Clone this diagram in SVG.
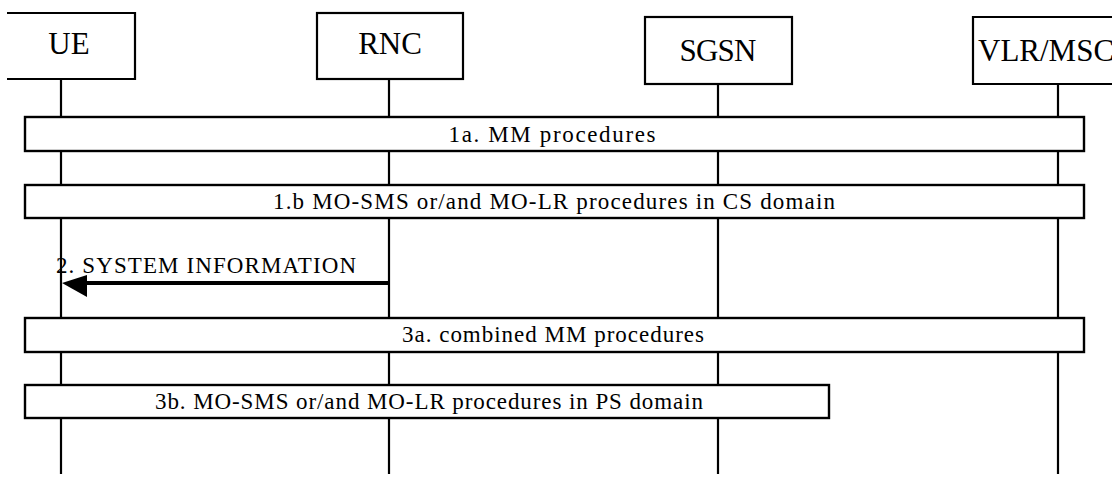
<svg xmlns="http://www.w3.org/2000/svg" width="1112" height="478" viewBox="0 0 1112 478">
<style>
.box{fill:#fff;stroke:#000;stroke-width:2.2}
.life{stroke:#000;stroke-width:2.2;fill:none}
.bar{fill:#fff;stroke:#000;stroke-width:2.4}
.nl{font-family:'Liberation Serif','DejaVu Serif',serif;font-size:31px;fill:#000;text-anchor:middle}
.bl{font-family:'Liberation Serif','DejaVu Serif',serif;font-size:23px;fill:#000;text-anchor:middle}
.msg{stroke:#000;stroke-width:4;fill:none}
</style>
<rect width="1112" height="478" fill="#fff"/>
<g id="node-UE">
<line class="life" x1="61" y1="79" x2="61" y2="474"/>
<path class="box" d="M7,13 H135 V79 H7"/>
<text class="nl" x="69" y="54">UE</text>
</g>
<g id="node-RNC">
<line class="life" x1="389" y1="79" x2="389" y2="474"/>
<rect class="box" x="317" y="13" width="146" height="66"/>
<text class="nl" x="390" y="54">RNC</text>
</g>
<g id="node-SGSN">
<line class="life" x1="718" y1="84" x2="718" y2="474"/>
<rect class="box" x="645" y="17" width="147" height="67"/>
<text class="nl" x="718" y="61" textLength="77" lengthAdjust="spacing">SGSN</text>
</g>
<g id="node-VLR-MSC">
<line class="life" x1="1058" y1="84" x2="1058" y2="474"/>
<path class="box" d="M1114,17 H973 V84 H1114"/>
<text class="nl" x="978" y="61" style="text-anchor:start">VLR/MSC</text>
</g>
<g id="bar-1a">
<rect class="bar" x="25" y="117" width="1059" height="34"/>
<text class="bl" x="552" y="142" textLength="207" lengthAdjust="spacing">1a. MM procedures</text>
</g>
<g id="bar-1b">
<rect class="bar" x="25" y="185" width="1059" height="33"/>
<text class="bl" x="554" y="209" textLength="562" lengthAdjust="spacing">1.b MO-SMS or/and MO-LR procedures in CS domain</text>
</g>
<g id="bar-3a">
<rect class="bar" x="25" y="318" width="1059" height="34"/>
<text class="bl" x="553" y="342" textLength="302" lengthAdjust="spacing">3a. combined MM procedures</text>
</g>
<g id="bar-3b">
<rect class="bar" x="25" y="385" width="804" height="33"/>
<text class="bl" x="429" y="409" textLength="548" lengthAdjust="spacing">3b. MO-SMS or/and MO-LR procedures in PS domain</text>
</g>
<g id="connectors">
<line class="msg" x1="389" y1="283" x2="80" y2="283"/>
<polygon points="62,283 87,275 87,297" fill="#000"/>
<text class="bl" x="56" y="273" style="text-anchor:start" textLength="300" lengthAdjust="spacing">2. SYSTEM INFORMATION</text>
</g>
</svg>
